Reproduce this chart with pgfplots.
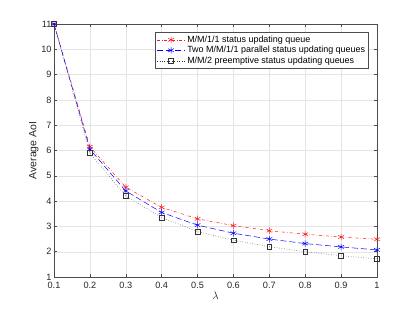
\documentclass[border=0pt]{standalone}
\usepackage{pgfplots}
\pgfplotsset{compat=1.18}
\usepackage{fontspec}
\setmainfont{Liberation Sans}
\begin{document}
\begin{tikzpicture}[x=1bp,y=1bp]
\path[use as bounding box] (0,0) rectangle (415,312);
\begin{axis}[
  at={(54bp,35bp)}, anchor=south west,
  scale only axis, width=323bp, height=253bp,
  xmin=0.1, xmax=1, ymin=1, ymax=11,
  xtick={0.1,0.2,...,1.0}, ytick={1,2,...,11},
  xticklabels={0.1,0.2,0.3,0.4,0.5,0.6,0.7,0.8,0.9,1},
  /pgf/number format/assume math mode=true,
  tick label style={font=\fontsize{9.2}{11}\selectfont, text=black!85},
  xticklabel style={yshift=-1.5pt},
  yticklabel style={xshift=1pt},
  label style={font=\fontsize{10.5}{12}\selectfont, text=black!85},
  xlabel={$\lambda$}, ylabel={Average AoI},
  xlabel style={yshift=3pt},
  ylabel style={yshift=-4pt},
  grid=major, major grid style={gray!20, line width=0.4pt},
  axis line style={black!70, line width=0.5pt},
  tick style={black!70, line width=0.5pt},
  tick align=inside, major tick length=3bp,
  legend style={at={(0.975,0.968)}, anchor=north east, font=\fontsize{9}{10}\selectfont,
     draw=black!70, line width=0.5pt, inner sep=1.5pt, row sep=-1.5pt, cells={anchor=west}},
  legend cell align=left,
  legend image code/.code={\draw[mark repeat=2,mark phase=2] plot coordinates {(0bp,0bp) (14bp,0bp) (28bp,0bp)};},
]
\addplot[red!90, dash dot, line width=0.5pt, mark=asterisk, mark size=3.3pt, mark options={solid}] coordinates {
(0.1,11.0) (0.2,6.15) (0.3,4.55) (0.4,3.75) (0.5,3.3) (0.6,3.03) (0.7,2.83) (0.8,2.69) (0.9,2.58) (1.0,2.49)};
\addlegendentry{M/M/1/1 status updating queue}
\addplot[blue, dashed, dash pattern=on 6pt off 3pt, line width=0.5pt, mark=asterisk, mark size=3.3pt, mark options={solid}] coordinates {
(0.1,11.0) (0.2,6.05) (0.3,4.4) (0.4,3.55) (0.5,3.05) (0.6,2.73) (0.7,2.50) (0.8,2.32) (0.9,2.19) (1.0,2.07)};
\addlegendentry{Two M/M/1/1 parallel status updating queues}
\addplot[black!80, dotted, line width=0.5pt, mark=square, mark size=2.4pt, mark options={solid}] coordinates {
(0.1,11.0) (0.2,5.9) (0.3,4.2) (0.4,3.35) (0.5,2.8) (0.6,2.45) (0.7,2.20) (0.8,2.0) (0.9,1.84) (1.0,1.72)};
\addlegendentry{M/M/2 preemptive status updating queues}
\end{axis}
\end{tikzpicture}
\end{document}
